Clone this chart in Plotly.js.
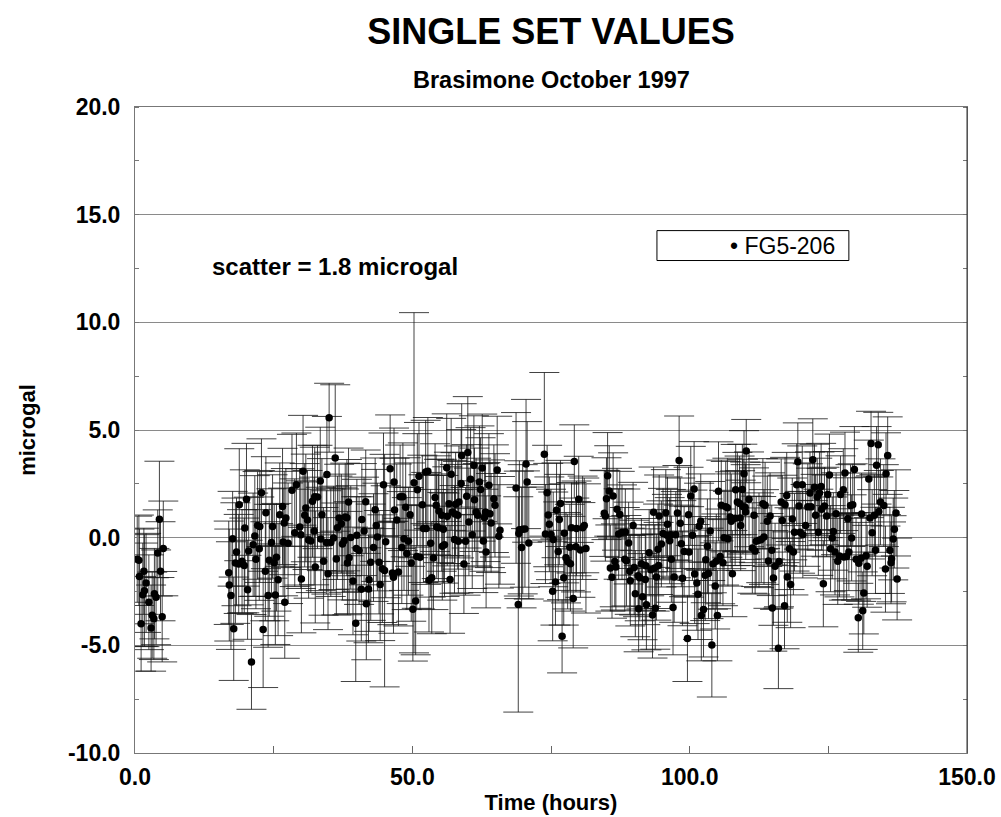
<!DOCTYPE html>
<html>
<head>
<meta charset="utf-8">
<script src="https://cdn.plot.ly/plotly-3.0.1.min.js"></script>
<style>html,body{margin:0;padding:0;background:#fff;}#chart{width:1001px;height:817px;}</style>
</head>
<body>
<div id="chart"></div>
<script>
// Time of each set (hours)
const timeHours = [
0.4,0.7,0.8,1.1,1.4,1.6,1.7,2.0,2.5,2.9,3.1,3.4,3.5,3.8,4.1,4.4,4.6,4.9,5.1,
16.9,17.0,17.3,17.6,17.8,18.1,18.3,18.7,18.8,19.3,19.7,19.8,20.1,20.3,20.5,21.0,21.3,21.6,21.8,22.1,22.4,22.5,22.8,23.1,23.5,23.6,
24.0,24.2,24.6,24.8,25.1,25.3,25.5,25.8,26.1,26.6,26.7,26.9,27.0,27.2,27.6,28.3,28.8,29.1,29.7,29.9,30.0,30.3,30.6,30.8,31.1,31.3,31.7,
32.0,32.3,32.4,32.5,32.9,33.4,33.5,33.7,34.0,34.6,34.5,34.8,35.0,35.3,35.8,36.1,36.3,36.5,36.8,37.2,37.4,37.7,37.9,38.2,38.3,38.5,38.6,38.9,
39.3,39.8,39.9,40.0,40.4,40.8,40.9,41.3,41.6,41.7,42.1,42.2,42.5,43.0,43.3,43.5,43.7,44.0,44.2,44.6,44.8,45.0,45.2,46.0,46.4,46.6,46.7,46.8,47.2,47.5,
47.8,48.1,48.3,48.5,48.8,49.0,49.3,49.6,49.8,50.1,50.3,50.6,50.8,50.9,51.2,51.4,51.8,52.0,52.4,52.5,52.8,53.0,53.3,53.5,53.8,54.1,54.3,54.4,54.7,54.8,
55.3,55.4,55.6,55.8,56.2,56.3,56.6,56.8,57.0,57.2,57.6,57.7,57.8,58.2,58.3,58.4,58.8,58.9,59.3,59.6,59.8,60.0,60.2,60.5,60.8,61.1,61.2,61.5,61.8,
62.1,62.3,62.6,62.8,63.0,63.2,63.3,63.8,64.0,64.2,64.7,64.9,65.3,65.6,65.8,
68.7,69.1,69.2,69.3,69.7,69.9,70.3,70.5,70.7,71.0,
73.8,74.0,74.3,74.5,74.7,75.0,75.3,75.4,75.8,76.0,76.3,76.5,76.7,77.0,77.3,77.4,77.7,78.0,78.4,78.5,78.7,79.0,79.2,79.5,79.6,80.0,80.3,80.7,81.0,81.3,
84.6,84.8,85.0,85.2,85.5,85.7,86.0,86.2,86.5,86.7,86.9,87.2,87.4,87.8,88.3,88.4,88.6,89.0,89.2,89.3,89.8,90.0,90.2,90.7,90.8,91.0,91.3,91.5,92.1,92.0,
92.2,92.7,93.0,93.3,93.5,93.7,93.8,94.0,94.3,94.4,94.5,94.9,95.2,95.7,95.9,
96.0,96.4,96.6,96.7,97.0,97.2,97.5,97.8,98.1,98.3,98.5,98.7,99.0,99.6,99.8,99.9,100.2,100.5,100.8,100.9,101.3,101.5,101.7,102.0,102.1,102.5,102.8,102.9,
103.2,103.4,103.7,104.0,104.2,104.6,104.8,105.0,105.2,105.5,105.7,106.0,106.2,106.5,106.8,106.9,107.3,107.5,107.7,108.2,108.3,108.6,109.0,109.1,109.2,
109.5,109.6,109.8,110.0,110.1,110.2,110.7,111.3,111.6,111.8,112.0,112.5,112.9,113.2,113.4,113.6,114.0,114.2,114.5,114.8,114.9,115.1,115.4,116.0,116.1,
116.5,116.7,117.1,117.2,117.5,117.6,
118.0,118.2,118.5,118.7,118.9,119.3,119.5,119.7,119.9,120.3,120.4,120.9,121.3,121.7,121.9,122.2,122.5,122.7,123.0,123.2,123.4,123.7,123.8,124.1,124.3,
124.7,124.9,125.2,125.4,125.7,125.9,126.2,126.4,126.7,127.0,127.2,127.7,127.8,128.0,128.3,128.5,128.7,129.0,129.2,129.4,129.7,130.0,130.4,130.5,130.9,
131.0,131.2,131.4,131.8,132.0,132.3,132.5,132.7,132.9,133.3,133.5,133.7,134.0,134.1,134.4,135.0,135.3,135.4,135.7,136.1,136.3,136.4,136.7,136.9,137.2,137.4
];
// Set values (microgal)
const microgal = [
-1.0,-1.05,-1.8,-4.0,-2.65,-1.56,-2.46,-2.1,-3.0,-4.2,-3.6,-3.76,-2.6,-2.77,-0.71,0.85,-1.56,-3.67,-0.5,
-1.63,-2.2,-2.69,-0.05,-4.23,-1.18,-0.66,-1.22,1.53,-1.1,-1.29,0.45,1.78,-2.42,-0.62,-5.77,-0.33,0.08,-1.0,0.57,-0.51,0.52,2.09,-4.26,-1.56,1.16,
-2.69,-1.05,-0.23,0.52,-1.16,-2.66,-0.91,-1.95,1.07,1.45,-0.2,0.68,-3.0,0.91,-0.26,2.2,0.23,2.46,0.5,0.14,-1.92,3.08,1.04,1.38,0.82,-0.11,-0.15,
1.69,0.31,1.9,-1.36,1.89,2.63,-0.06,1.07,-1.1,2.93,-0.22,-1.67,5.57,-0.23,-0.01,3.70,-0.99,0.46,0.91,0.65,-0.29,-0.14,0.96,0.93,-1.18,1.66,-0.93,0.01,
-2.01,-3.98,-0.5,0.11,-0.6,-2.4,0.84,0.31,1.67,-3.07,-2.38,-1.95,-1.14,-0.46,1.3,0.57,0.03,-1.14,-2.18,-1.44,2.46,-1.53,-0.19,3.2,-1.64,-1.84,2.59,1.29,0.82,-1.6,
1.9,-0.46,1.9,-0.05,1.41,-0.74,-0.17,1.07,-1.18,-3.33,2.55,-2.94,-0.88,2.23,2.85,-0.91,1.53,0.42,3.05,0.43,3.08,-1.98,-0.26,-1.86,-0.94,1.86,1.5,0.5,0.46,1.24,
1.04,-0.4,0.39,-0.33,3.25,0.99,1.57,-1.94,2.94,1.19,-0.08,1.1,1.55,1.04,-0.17,1.66,2.52,3.82,-1.22,-0.17,1.92,3.95,0.73,2.71,0.14,3.36,1.76,1.19,1.04,
2.59,2.24,3.24,-0.15,0.94,1.19,-0.66,2.43,1.11,0.68,1.81,1.5,3.14,0.06,0.34,
2.31,-3.1,0.19,0.37,-0.46,0.39,0.4,3.42,2.59,-0.25,
3.87,0.17,2.09,1.05,0.62,0.15,-2.49,-0.08,-2.06,1.27,-0.64,0.84,1.59,-4.58,-1.86,0.2,-0.93,-1.11,-0.45,-1.21,0.46,-2.82,3.54,-0.42,0.43,1.78,-0.57,0.46,0.57,-0.5,
1.13,1.01,1.81,2.88,2.17,-1.41,-1.84,1.94,-1.11,-1.36,1.32,0.17,1.08,0.25,-1.0,0.26,-1.07,-0.25,-1.56,-2.0,0.57,-1.39,-2.6,-1.77,-3.3,-1.86,-1.21,-2.74,-1.3,-1.94,
-3.11,-0.7,-1.49,-3.59,1.18,-1.41,-3.28,-1.83,-0.54,-1.29,1.01,-0.29,0.19,1.16,0.11,
0.62,-0.14,0.14,-1.0,-3.24,-1.83,0.14,1.15,3.58,0.67,-0.28,-1.89,-0.64,-4.68,1.07,-0.66,1.94,0.11,2.26,-1.69,-2.1,-2.63,0.53,0.76,-3.62,-3.34,-1.75,-1.02,
-0.4,-1.66,0.31,-4.98,-1.22,-2.24,-1.1,-3.62,2.15,-0.87,1.5,-1.16,0.0,1.44,1.39,-0.05,0.96,0.76,-1.67,0.9,2.23,1.66,1.59,0.91,0.57,
2.24,1.44,2.97,1.41,1.19,4.02,1.78,-0.48,1.04,-0.62,-0.17,-0.12,-0.09,1.57,0.03,1.5,0.76,-1.08,1.01,-0.59,-3.27,-1.87,-1.33,-5.14,-1.11,
1.66,0.8,-3.16,1.53,1.96,-1.83,
-0.51,-2.18,0.87,-0.66,0.25,2.46,3.53,1.47,0.25,2.46,0.13,0.57,1.43,2.08,1.43,3.62,2.34,1.04,1.89,0.25,2.08,2.38,1.32,-2.14,1.47,
1.01,2.0,2.91,-0.51,-0.01,0.29,-0.66,1.11,-1.1,-0.85,2.0,2.23,-0.9,3.0,-0.88,0.88,-0.66,1.49,-0.01,1.53,3.16,-1.0,-3.72,-1.19,-0.96,
1.1,-3.39,-2.57,-0.84,-1.33,2.73,0.91,4.37,0.23,1.04,-0.59,3.36,4.32,1.22,1.66,1.49,-1.46,2.97,3.81,-0.59,-1.17,-0.98,-0.06,0.39,1.15,-1.92
];
// Set uncertainty (microgal)
const errMicrogal = [
2.0,2.1,2.2,2.2,2.4,2.0,2.6,2.3,2.2,2.0,2.0,1.9,2.1,2.2,2.0,2.7,2.3,2.1,2.2,
2.4,2.6,2.5,2.2,2.4,2.8,2.5,2.3,2.6,2.4,2.2,2.7,2.6,2.3,2.5,2.2,2.4,2.8,2.3,2.5,2.4,2.6,2.5,2.7,2.3,2.6,
2.4,2.6,2.5,2.4,2.7,2.3,2.5,2.6,2.4,2.7,2.5,2.4,2.6,2.3,2.8,2.6,2.5,2.4,2.7,2.5,2.5,2.6,2.4,2.5,2.3,2.7,2.4,
2.6,2.5,2.3,2.6,2.4,2.5,2.4,2.6,2.5,2.7,2.4,2.6,1.6,2.5,2.4,3.4,2.6,2.4,2.5,2.3,2.6,2.4,2.5,2.7,2.4,2.5,2.6,2.4,
2.5,2.7,2.4,2.6,2.5,2.4,2.6,2.5,2.4,2.6,2.5,2.4,2.7,2.5,2.4,2.6,2.5,2.4,2.6,2.5,2.4,5.4,2.6,2.5,2.4,2.6,2.5,2.4,2.6,2.5,
2.4,2.6,2.5,2.4,2.3,2.6,2.5,2.4,2.7,2.4,7.9,2.5,2.4,2.6,2.5,2.4,2.3,2.5,2.4,2.6,2.5,2.4,2.5,2.6,2.4,2.5,2.3,2.4,2.5,2.4,
2.6,2.5,2.5,2.4,2.5,2.3,2.4,2.5,2.6,2.4,2.5,2.3,2.4,2.5,2.4,2.6,2.5,2.4,2.3,2.5,2.4,2.6,2.5,2.4,2.5,2.3,2.4,2.5,2.4,
2.6,2.4,2.5,2.4,2.5,2.3,2.6,2.4,2.5,2.3,2.5,2.4,2.5,2.4,2.5,
3.5,5.0,2.9,3.2,2.8,3.0,2.7,3.0,2.8,2.6,
3.8,2.3,2.2,2.4,2.2,2.1,2.3,2.2,2.0,2.2,2.3,2.1,2.0,1.7,2.2,2.3,2.1,2.2,2.0,2.2,2.1,2.3,1.7,2.1,2.2,2.0,2.2,2.4,2.2,3.0,
2.0,2.1,1.9,2.0,2.1,2.0,1.9,2.0,2.1,2.0,1.9,2.1,2.0,2.2,2.4,2.0,2.1,1.9,2.0,2.1,2.0,2.2,2.0,1.9,2.0,2.0,2.1,2.0,1.9,2.1,
2.1,2.0,1.9,2.0,2.1,2.0,1.9,2.0,2.1,2.0,1.9,2.0,2.1,2.0,1.9,
2.2,2.0,2.1,2.0,2.2,2.1,2.0,2.2,2.07,2.1,2.0,2.2,2.1,2.0,2.2,2.1,2.3,2.1,2.2,2.3,2.2,2.1,2.0,2.2,2.1,2.2,2.1,2.0,
2.2,2.1,2.3,2.42,2.1,2.0,2.2,2.1,2.3,2.2,2.1,2.0,2.2,2.1,2.3,2.2,2.1,2.2,2.0,2.2,2.1,2.3,2.2,2.2,2.1,
2.1,2.2,2.0,2.1,2.2,1.47,2.2,2.1,2.2,2.0,2.1,2.2,2.0,2.1,2.2,2.0,2.1,2.2,2.0,2.1,2.0,2.2,2.0,1.87,2.1,
2.0,2.1,2.0,2.2,2.0,2.1,
1.9,2.0,1.9,2.0,1.8,1.9,1.8,2.0,1.9,1.8,2.0,1.9,2.0,1.9,1.8,1.9,2.0,1.9,1.8,2.0,1.9,2.0,1.9,2.0,1.8,
1.9,2.0,1.9,2.0,1.9,1.8,2.0,1.9,2.0,1.9,1.8,1.9,2.0,1.9,2.0,1.9,1.8,1.9,2.0,1.9,2.0,1.9,1.6,1.9,2.0,
1.9,1.8,1.9,2.0,1.9,1.8,1.9,1.5,2.0,1.9,2.0,1.8,1.5,1.9,2.0,1.9,2.0,1.9,1.8,2.0,1.9,2.0,1.9,1.8,2.0,1.9
];
const seriesName = 'FG5-206';
const chartTitle = 'SINGLE SET VALUES';
const chartSubtitle = 'Brasimone October 1997';
const scatterNote = 'scatter = 1.8 microgal';
const xTickVals = [0, 50, 100, 150];
const xTickLabels = ['0.0', '50.0', '100.0', '150.0'];
const yTickVals = [-10, -5, 0, 5, 10, 15, 20];
const yTickLabels = ['-10.0', '-5.0', '0.0', '5.0', '10.0', '15.0', '20.0'];

const FONT = 'Liberation Sans, Arial, Helvetica, sans-serif';

const trace = {
  type: 'scatter',
  mode: 'markers',
  name: seriesName,
  x: timeHours,
  y: microgal,
  marker: {color: '#000', size: 7.5},
  error_y: {type: 'data', array: errMicrogal, visible: true, color: 'rgba(20,20,20,0.8)', thickness: 1, width: 15},
  showlegend: false,
  hoverinfo: 'x+y'
};

const layout = {
  width: 1001, height: 817,
  margin: {l: 135, r: 34, t: 107, b: 64},
  paper_bgcolor: '#fff', plot_bgcolor: '#fff',
  font: {family: FONT, color: '#000', size: 22, weight: 'bold'},
  showlegend: false,
  title: {
    text: chartTitle,
    font: {family: FONT, size: 36, color: '#000', weight: 'bold'},
    x: 0.5, xref: 'paper', xanchor: 'center',
    y: 1 - 31/817, yref: 'container', yanchor: 'middle'
  },
  xaxis: {
    range: [0, 150],
    tickvals: xTickVals,
    ticktext: xTickLabels,
    ticks: 'inside', ticklen: 7, tickcolor: '#666', tickwidth: 1,
    minor: {dtick: 25, tick0: 0, ticks: 'inside', ticklen: 7, tickcolor: '#666', showgrid: false},
    showgrid: false, zeroline: false,
    showline: true, linecolor: '#777', linewidth: 1, mirror: true,
    tickfont: {family: FONT, size: 23, color: '#000', weight: 'bold'},
    ticklabelstandoff: 3,
    title: {text: 'Time (hours)', font: {family: FONT, size: 22, color: '#000', weight: 'bold'}, standoff: 6},
    fixedrange: true
  },
  yaxis: {
    range: [-10, 20],
    tickvals: yTickVals,
    ticktext: yTickLabels,
    ticks: '',
    minor: {dtick: 2.5, tick0: 0, ticks: 'inside', ticklen: 4, tickcolor: '#777', showgrid: false},
    showgrid: true, gridcolor: '#8a8a8a', gridwidth: 1,
    zeroline: false,
    showline: true, linecolor: '#777', linewidth: 1, mirror: 'allticks',
    tickfont: {family: FONT, size: 23, color: '#000', weight: 'bold'},
    ticklabelstandoff: 9,
    title: {text: 'microgal', font: {family: FONT, size: 22, color: '#000', weight: 'bold'}, standoff: 26},
    fixedrange: true
  },
  shapes: [
    {type: 'line', xref: 'paper', yref: 'paper', x0: 1, x1: 1, y0: 0, y1: 1, line: {color: '#333', width: 1}},
    {type: 'rect', xref: 'x', yref: 'y', x0: 94.1, x1: 128.7, y0: 12.87, y1: 14.26, line: {color: '#000', width: 1}, fillcolor: 'rgba(255,255,255,1)', layer: 'above'}
  ],
  annotations: [
    {text: chartSubtitle, xref: 'paper', yref: 'paper', x: 0.5, y: (753-80)/646, xanchor: 'center', yanchor: 'middle', showarrow: false,
     font: {family: FONT, size: 23.5, color: '#000', weight: 'bold'}},
    {text: scatterNote, xref: 'x', yref: 'y', x: 13.5, y: 12.6, xanchor: 'left', yanchor: 'middle', showarrow: false,
     font: {family: FONT, size: 24, color: '#000', weight: 'bold'}},
    {text: '\u2022 ' + seriesName, xref: 'x', yref: 'y', x: 126.5, y: 13.56, xanchor: 'right', yanchor: 'middle', showarrow: false,
     font: {family: FONT, size: 23, color: '#000', weight: 'normal'}}
  ]
};

Plotly.newPlot('chart', [trace], layout, {displayModeBar: false, staticPlot: true});
</script>
</body>
</html>
